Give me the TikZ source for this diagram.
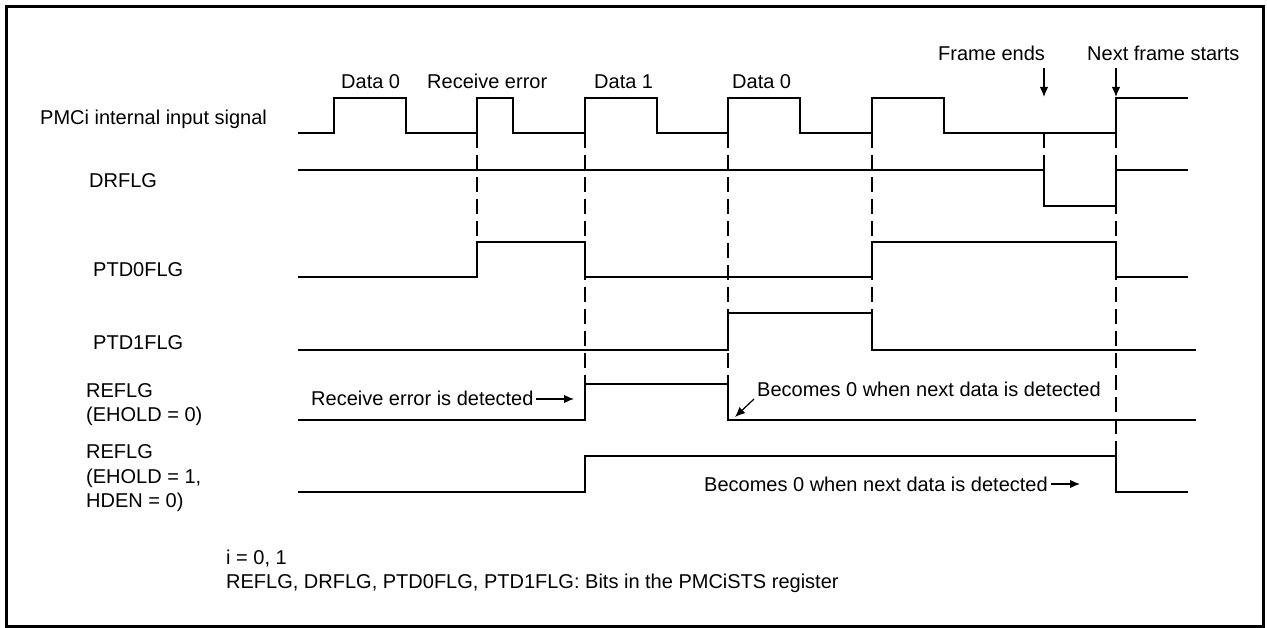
\documentclass[tikz,border=0pt]{standalone}
\usepackage{fontspec}
\setmainfont{Liberation Sans}
\usetikzlibrary{arrows.meta}
\begin{document}
\begin{tikzpicture}[x=1pt,y=-1pt,
  sig/.style={line width=1.5pt, line join=miter},
  guide/.style={line width=2.7pt, dash pattern=on 15pt off 7pt},
  lbl/.style={anchor=base west, inner sep=0pt, font=\fontsize{20}{24}\selectfont},
  arr/.style={line width=1.2pt, -{Latex[length=10pt,width=8.5pt]}},
  frame/.style={line width=3pt}
]
\useasboundingbox (0,0) rectangle (1267,628);
\draw[frame] (6,6.5) rectangle (1263.5,626.5);

% signal labels (left)
\node[lbl] (lpmc) at (40,125) {PMCi internal input signal};
\node[lbl] (ldr) at (89,188) {DRFLG};
\node[lbl] (lpa) at (93,277) {PTD0FLG};
\node[lbl] (lpb) at (93,350) {PTD1FLG};
\node[lbl] (lrea) at (86,397) {REFLG};
\node[lbl] (lreb) at (86,421) {(EHOLD = 0)};
\node[lbl] (lrec) at (86,458) {REFLG};
\node[lbl] (lred) at (86,483) {(EHOLD = 1,};
\node[lbl] (lree) at (86,507) {HDEN = 0)};

% labels above the input signal
\node[lbl] (dza) at (341,89) {Data 0};
\node[lbl] (rerr) at (427,89) {Receive error};
\node[lbl] (done) at (594,89) {Data 1};
\node[lbl] (dzb) at (732,89) {Data 0};
\node[lbl] (fe) at (938,61) {Frame ends};
\node[lbl] (nfs) at (1087,61) {Next frame starts};

% guides (dashed)
\draw[guide] (477,133) -- (477,242);
\draw[guide] (585,133) -- (585,384);
\draw[guide] (728,133) -- (728,384);
\draw[guide] (872,133) -- (872,313);
\draw[guide] (1044,133) -- (1044,172);
\draw[guide] (1116,133) -- (1116,456);

% signals
\draw[sig] (298,133) -- (334,133) -- (334,98) -- (406,98) -- (406,133) -- (477,133) -- (477,98) -- (513,98) -- (513,133) -- (585,133) -- (585,98) -- (657,98) -- (657,133) -- (728,133) -- (728,98) -- (800,98) -- (800,133) -- (872,133) -- (872,98) -- (944,98) -- (944,133) -- (1116,133) -- (1116,98) -- (1188,98);
\draw[sig] (298,170) -- (1044,170) -- (1044,206) -- (1116,206) -- (1116,170) -- (1188,170);
\draw[sig] (298,277) -- (477,277) -- (477,242) -- (585,242) -- (585,277) -- (872,277) -- (872,242) -- (1116,242) -- (1116,277) -- (1188,277);
\draw[sig] (298,350) -- (728,350) -- (728,313) -- (872,313) -- (872,350) -- (1196,350);
\draw[sig] (298,420) -- (585,420) -- (585,384) -- (728,384) -- (728,420) -- (1196,420);
\draw[sig] (298,492) -- (585,492) -- (585,456) -- (1116,456) -- (1116,492) -- (1188,492);

% annotations
\node[lbl] (tre) at (311,406) {Receive error is detected};
\node[lbl] (tba) at (757,396) {Becomes 0 when next data is detected};
\node[lbl] (tbb) at (704,491) {Becomes 0 when next data is detected};

\coordinate (fea) at (1044,68);
\coordinate (feb) at (1044,97);
\coordinate (nfa) at (1116,68);
\coordinate (nfb) at (1116,97);
\coordinate (rea) at (536,399);
\coordinate (reb) at (574,399);
\coordinate (baa) at (754,399);
\coordinate (bab) at (735,417);
\coordinate (bba) at (1051,484);
\coordinate (bbb) at (1080,484);
\draw[arr] (fea) -- (feb);
\draw[arr] (nfa) -- (nfb);
\draw[arr] (rea) -- (reb);
\draw[arr] (baa) -- (bab);
\draw[arr] (bba) -- (bbb);

% footnote
\node[lbl] (ni) at (226,564) {i = 0, 1};
\node[lbl] (nbits) at (226,588) {REFLG, DRFLG, PTD0FLG, PTD1FLG: Bits in the PMCiSTS register};
\end{tikzpicture}
\end{document}
